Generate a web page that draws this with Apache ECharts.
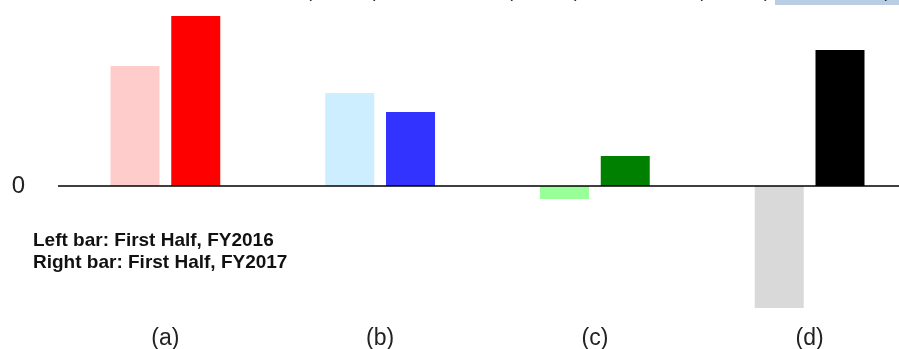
<!DOCTYPE html>
<html>
<head>
<meta charset="utf-8">
<style>
  html, body { margin: 0; padding: 0; background: #fff; }
  #chart { width: 899px; height: 349px; }
</style>
<script src="https://cdn.jsdelivr.net/npm/echarts@6/dist/echarts.min.js"></script>
</head>
<body>
<div id="chart"></div>
<script>
// Segment labels along the category axis
const categories = ['(a)', '(b)', '(c)', '(d)'];
// Left bar: first half FY2016, right bar: first half FY2017
const firstHalfFY2016 = [120, 93, -13, -122];
const firstHalfFY2017 = [170, 74, 30, 136];
// Per-segment colours, light tone for the earlier year
const colorsFY2016 = ['#ffcccc', '#cceeff', '#99ff99', '#d9d9d9'];
const colorsFY2017 = ['#ff0000', '#3333ff', '#008000', '#000000'];
const noteLines = ['Left bar: First Half, FY2016', 'Right bar: First Half, FY2017'];
const unitText = '(¥ billion)';

const chart = echarts.init(document.getElementById('chart'), null, { renderer: 'canvas' });

function toItems(values, colors) {
  return values.map((v, i) => ({ value: v, itemStyle: { color: colors[i] } }));
}

const FONT = 'Arial, "Liberation Sans", sans-serif';

chart.setOption({
  animation: false,
  grid: { left: 58, top: 0, width: 859, height: 322, outerBoundsMode: 'none' },
  xAxis: {
    type: 'category',
    data: categories,
    axisLine: { show: false },
    axisTick: { show: false },
    axisLabel: {
      margin: 5,
      fontFamily: FONT,
      fontSize: 23,
      color: '#222'
    }
  },
  yAxis: {
    type: 'value',
    min: -136,
    max: 186,
    show: false
  },
  series: [
    {
      type: 'bar',
      barWidth: 49,
      barGap: '24%',
      data: toItems(firstHalfFY2016, colorsFY2016),
      markLine: {
        silent: true,
        symbol: 'none',
        data: [{ yAxis: 0 }],
        lineStyle: { color: '#000', width: 1.5, type: 'solid' },
        label: {
          position: 'start',
          formatter: '0',
          distance: 33,
          fontFamily: FONT,
          fontSize: 24,
          color: '#222'
        }
      }
    },
    {
      type: 'bar',
      barWidth: 49,
      barGap: '24%',
      data: toItems(firstHalfFY2017, colorsFY2017)
    }
  ],
  graphic: [
    {
      type: 'rect',
      shape: { x: 775, y: -20, width: 130, height: 25 },
      style: { fill: '#b9cde5' },
      silent: true
    },
    ...[306, 507, 697].map(x => ({
      type: 'text',
      x: x,
      y: -8,
      silent: true,
      style: {
        text: unitText,
        font: '18px ' + FONT,
        fill: '#222',
        verticalAlign: 'middle'
      }
    })),
    {
      type: 'text',
      x: 881,
      y: -8,
      silent: true,
      style: {
        text: '(',
        font: '18px ' + FONT,
        fill: '#222',
        verticalAlign: 'middle'
      }
    },
    ...noteLines.map((t, i) => ({
      type: 'text',
      x: 33,
      y: 241 + i * 22,
      silent: true,
      style: {
        text: t,
        font: 'bold 19px ' + FONT,
        fill: '#111',
        verticalAlign: 'middle'
      }
    }))
  ]
});
</script>
</body>
</html>
